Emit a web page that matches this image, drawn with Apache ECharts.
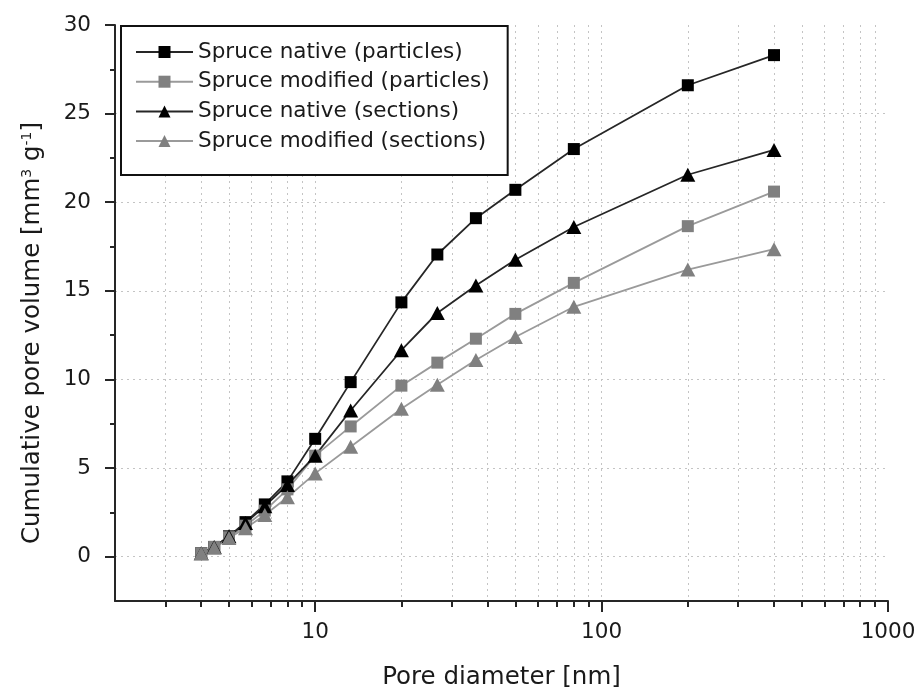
<!DOCTYPE html>
<html>
<head>
<meta charset="utf-8">
<title>Cumulative pore volume</title>
<script src="https://cdn.jsdelivr.net/npm/echarts@6/dist/echarts.min.js"></script>
<style>
  html, body { margin: 0; padding: 0; background: #fff; }
  #chart { width: 919px; height: 695px; }
</style>
</head>
<body>
<div id="chart"></div>
<script>
// Pore diameters of the measurement steps [nm]
const poreDiameter = [4, 4.44, 5, 5.71, 6.67, 8, 10, 13.3, 20, 26.7, 36.4, 50, 80, 200, 400];

// Cumulative pore volume [mm^3 g^-1]
const nativeParticles   = [0.2, 0.55, 1.15, 1.95, 2.95, 4.25, 6.65, 9.85, 14.35, 17.05, 19.1, 20.7, 23.0, 26.6, 28.3];
const modifiedParticles = [0.2, 0.55, 1.1, 1.75, 2.6, 3.8, 5.7, 7.35, 9.65, 10.95, 12.3, 13.7, 15.45, 18.65, 20.6];
const nativeSections    = [0.2, 0.55, 1.15, 1.9, 2.85, 4.05, 5.7, 8.25, 11.65, 13.75, 15.3, 16.75, 18.6, 21.55, 22.95];
const modifiedSections  = [0.2, 0.5, 1.05, 1.6, 2.35, 3.35, 4.7, 6.2, 8.35, 9.7, 11.1, 12.4, 14.1, 16.2, 17.35];

const seriesNames = [
  'Spruce native (particles)',
  'Spruce modified (particles)',
  'Spruce native (sections)',
  'Spruce modified (sections)'
];

// Axis tick values
const yMajorValues = [0, 5, 10, 15, 20, 25, 30];
const yMinorValues = [2.5, 7.5, 12.5, 17.5, 22.5, 27.5];
const yGridValues  = [0, 5, 10, 15, 20, 25];
const xMajorValues = [10, 100, 1000];
const xMinorValues = [3, 4, 5, 6, 7, 8, 9, 20, 30, 40, 50, 60, 70, 80, 90, 200, 300, 400, 500, 600, 700, 800, 900];
const xGridValues  = [3, 4, 5, 6, 7, 8, 9, 10, 20, 30, 40, 50, 60, 70, 80, 90, 100, 200, 300, 400, 500, 600, 700, 800, 900];

const FONT = 'DejaVu Sans';
const INK = '#1a1a1a';
const DARK = '#262626';
const GREY_LINE = '#9a9a9a';
const GREY_MARK = '#808080';

const gridLine = { show: true, lineStyle: { color: '#c4c4c4', width: 1, type: [2, 4] } };

function pairs(values) {
  return poreDiameter.map((d, i) => [d, values[i]]);
}

function makeSeries(name, values, symbol, lineColor, markColor) {
  const tri = symbol === 'triangle';
  return {
    name: name,
    type: 'line',
    data: pairs(values),
    symbol: symbol,
    symbolSize: tri ? [15, 14] : 12,
    showAllSymbol: true,
    lineStyle: { color: lineColor, width: 1.8 },
    itemStyle: { color: markColor, borderColor: markColor, borderWidth: 0 },
    emphasis: { disabled: true },
    animation: false
  };
}

const xBase = { type: 'log', logBase: 10, min: 2, max: 1000, gridIndex: 0, position: 'bottom', offset: 0 };
const yBase = { type: 'value', min: -2.5, max: 30, interval: 2.5, gridIndex: 0, position: 'left', offset: 0 };

const option = {
  backgroundColor: '#fff',
  animation: false,
  grid: { left: 115, right: 31, top: 25, bottom: 94, containLabel: false },
  legend: {
    left: 121,
    top: 26,
    orient: 'vertical',
    padding: [15, 18, 23, 14],
    itemGap: 7.7,
    itemWidth: 57,
    itemHeight: 15,
    borderColor: '#111',
    borderWidth: 2,
    backgroundColor: '#fff',
    textStyle: { fontFamily: FONT, fontSize: 21.5, color: INK, lineHeight: 22 },
    data: seriesNames
  },
  xAxis: [
    Object.assign({}, xBase, {
      name: 'Pore diameter [nm]',
      nameLocation: 'middle',
      nameGap: 64,
      nameTextStyle: { fontFamily: FONT, fontSize: 24.5, color: INK },
      axisLine: { show: true, onZero: false, lineStyle: { color: DARK, width: 2 } },
      axisTick: { show: true, inside: false, length: 11, lineStyle: { color: DARK, width: 2 }, customValues: xMajorValues },
      axisLabel: {
        show: true, margin: 20, fontFamily: FONT, fontSize: 21.5, color: INK,
        customValues: xMajorValues,
        formatter: v => String(Math.round(v))
      },
      splitLine: { show: false }
    }),
    Object.assign({}, xBase, {
      axisLine: { show: false, onZero: false },
      axisTick: { show: true, inside: false, length: 6, lineStyle: { color: DARK, width: 2 }, customValues: xMinorValues },
      axisLabel: { show: false },
      splitLine: { show: false }
    }),
    Object.assign({}, xBase, {
      axisLine: { show: false, onZero: false },
      axisTick: { show: false, customValues: xGridValues },
      axisLabel: { show: false },
      splitLine: gridLine
    })
  ],
  yAxis: [
    Object.assign({}, yBase, {
      name: 'Cumulative pore volume [mm{s|3} g{s|-1}]',
      nameLocation: 'middle',
      nameGap: 70,
      nameTextStyle: {
        fontFamily: FONT, fontSize: 24.5, color: INK,
        padding: [0, 40, 0, 0],
        rich: { s: { fontFamily: FONT, fontSize: 14, color: INK, verticalAlign: 'top', lineHeight: 14 } }
      },
      axisLine: { show: true, onZero: false, lineStyle: { color: DARK, width: 2 } },
      axisTick: { show: true, inside: false, length: 10, lineStyle: { color: DARK, width: 2 }, customValues: yMajorValues },
      axisLabel: { show: true, margin: 24, fontFamily: FONT, fontSize: 21.5, color: INK, customValues: yMajorValues },
      splitLine: { show: false }
    }),
    Object.assign({}, yBase, {
      axisLine: { show: false, onZero: false },
      axisTick: { show: true, inside: false, length: 5, lineStyle: { color: DARK, width: 2 }, customValues: yMinorValues },
      axisLabel: { show: false },
      splitLine: { show: false }
    }),
    Object.assign({}, yBase, {
      axisLine: { show: false, onZero: false },
      axisTick: { show: false, customValues: yGridValues },
      axisLabel: { show: false },
      splitLine: gridLine
    })
  ],
  series: [
    makeSeries(seriesNames[0], nativeParticles, 'rect', DARK, '#000'),
    makeSeries(seriesNames[1], modifiedParticles, 'rect', GREY_LINE, GREY_MARK),
    makeSeries(seriesNames[2], nativeSections, 'triangle', DARK, '#000'),
    makeSeries(seriesNames[3], modifiedSections, 'triangle', GREY_LINE, GREY_MARK)
  ]
};

const chart = echarts.init(document.getElementById('chart'), null, { renderer: 'canvas' });
chart.setOption(option);
</script>
</body>
</html>
